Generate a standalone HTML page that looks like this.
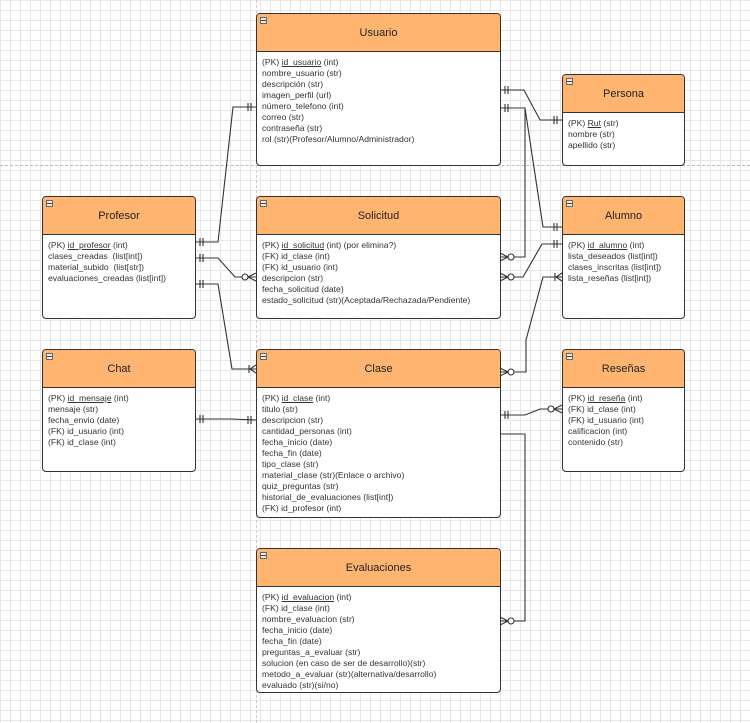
<!DOCTYPE html>
<html><head><meta charset="utf-8"><style>
body{margin:0;width:750px;height:723px;overflow:hidden;position:relative;background-color:#fff;
background-image:linear-gradient(#e6e6e6 1px,transparent 1px),linear-gradient(90deg,#e6e6e6 1px,transparent 1px);
background-size:10px 10px;font-family:"Liberation Sans",sans-serif;}
.b{position:absolute;border:1.5px solid #333;border-radius:4px;background:#fff;box-sizing:border-box;overflow:hidden}
.h{height:37px;background:#ffb570;border-bottom:1.5px solid #333;text-align:center;line-height:38px;font-size:11px;color:#222;position:relative}
.h:before{content:"";position:absolute;left:3px;top:3px;width:5px;height:5px;border:1px solid #666;background:#eee}
.h:after{content:"";position:absolute;left:4px;top:6px;width:5px;height:1px;background:#444}
.c{padding:5px 0 0 5px;font-size:8.6px;line-height:11px;color:#333;white-space:nowrap}
u{text-decoration:underline}
svg{position:absolute;left:0;top:0}
</style></head><body>
<div style="position:absolute;left:0;top:165px;width:750px;border-top:1px dashed #bbb"></div>
<div style="position:absolute;left:256px;top:0;height:723px;border-left:1px dashed #ccc"></div>

<div class="b" style="left:256px;top:13px;width:245px;height:153px"><div class="h">Usuario</div><div class="c">(PK) <u>id_usuario</u> (int)<br>nombre_usuario (str)<br>descripción (str)<br>imagen_perfil (url)<br>número_telefono (int)<br>correo (str)<br>contraseña (str)<br>rol (str)(Profesor/Alumno/Administrador)</div></div>
<div class="b" style="left:562px;top:74px;width:123px;height:92px"><div class="h">Persona</div><div class="c">(PK) <u>Rut</u> (str)<br>nombre (str)<br>apellido (str)</div></div>
<div class="b" style="left:42px;top:196px;width:154px;height:123px"><div class="h">Profesor</div><div class="c">(PK) <u>id_profesor</u> (int)<br>clases_creadas&nbsp; (list[int])<br>material_subido&nbsp; (list[str])<br>evaluaciones_creadas (list[int])</div></div>
<div class="b" style="left:256px;top:196px;width:245px;height:123px"><div class="h">Solicitud</div><div class="c">(PK) <u>id_solicitud</u> (int) (por elimina?)<br>(FK) id_clase (int)<br>(FK) id_usuario (int)<br>descripcion (str)<br>fecha_solicitud (date)<br>estado_solicitud (str)(Aceptada/Rechazada/Pendiente)</div></div>
<div class="b" style="left:562px;top:196px;width:123px;height:123px"><div class="h">Alumno</div><div class="c">(PK) <u>id_alumno</u> (int)<br>lista_deseados (list[int])<br>clases_inscritas (list[int])<br>lista_reseñas (list[int])</div></div>
<div class="b" style="left:42px;top:349px;width:154px;height:123px"><div class="h">Chat</div><div class="c">(PK) <u>id_mensaje</u> (int)<br>mensaje (str)<br>fecha_envio (date)<br>(FK) id_usuario (int)<br>(FK) id_clase (int)</div></div>
<div class="b" style="left:256px;top:349px;width:245px;height:169px"><div class="h">Clase</div><div class="c">(PK) <u>id_clase</u> (int)<br>titulo (str)<br>descripcion (str)<br>cantidad_personas (int)<br>fecha_inicio (date)<br>fecha_fin (date)<br>tipo_clase (str)<br>material_clase (str)(Enlace o archivo)<br>quiz_preguntas (str)<br>historial_de_evaluaciones (list[int])<br>(FK) id_profesor (int)</div></div>
<div class="b" style="left:562px;top:349px;width:123px;height:123px"><div class="h">Reseñas</div><div class="c">(PK) <u>id_reseña</u> (int)<br>(FK) id_clase (int)<br>(FK) id_usuario (int)<br>calificacion (int)<br>contenido (str)</div></div>
<div class="b" style="left:256px;top:548px;width:245px;height:145px"><div class="h">Evaluaciones</div><div class="c">(PK) <u>id_evaluacion</u> (int)<br>(FK) id_clase (int)<br>nombre_evaluacion (str)<br>fecha_inicio (date)<br>fecha_fin (date)<br>preguntas_a_evaluar (str)<br>solucion (en caso de ser de desarrollo)(str)<br>metodo_a_evaluar (str)(alternativa/desarrollo)<br>evaluado (str)(si/no)</div></div>

<svg width="750" height="723" fill="none" stroke="#333" stroke-width="1.1">
<defs>
<g id="one"><path d="M5,-4V4M8,-4V4"/></g>
<g id="zm"><path d="M0,-4L8,0L0,4"/><circle cx="11" cy="0" r="3" fill="#fff"/></g>
<g id="om"><path d="M0,-4L6,0L0,4M7,-4V4"/></g>
</defs>
<polyline points="195,242 218,242 233,107 256,107"/>
<polyline points="500,90 524,90 540,120 562,120"/>
<polyline points="500,108 525,108 543,227 562,227"/>
<polyline points="500,257 525,257 525,108"/>
<polyline points="500,277 523,277 542,244 562,244"/>
<polyline points="562,277 543,277 526,340 526,372 500,372"/>
<polyline points="195,258 218,258 235,277 256,277"/>
<polyline points="195,284 218,284 232,369 256,369"/>
<polyline points="195,419 230,419 256,420"/>
<polyline points="500,415 525,415 540,409 562,409"/>
<polyline points="500,434 525,434 525,621 500,621"/>
<use href="#one" transform="translate(256,107) scale(-1,1)"/>
<use href="#one" transform="translate(195,242)"/>
<use href="#one" transform="translate(500,90)"/>
<use href="#one" transform="translate(562,120) scale(-1,1)"/>
<use href="#one" transform="translate(500,108)"/>
<use href="#one" transform="translate(562,227) scale(-1,1)"/>
<use href="#zm" transform="translate(500,257)"/>
<use href="#zm" transform="translate(500,277)"/>
<use href="#one" transform="translate(562,244) scale(-1,1)"/>
<use href="#om" transform="translate(562,277) scale(-1,1)"/>
<use href="#zm" transform="translate(500,372)"/>
<use href="#one" transform="translate(195,258)"/>
<use href="#zm" transform="translate(256,277) scale(-1,1)"/>
<use href="#one" transform="translate(195,284)"/>
<use href="#om" transform="translate(256,369) scale(-1,1)"/>
<use href="#one" transform="translate(195,419)"/>
<use href="#one" transform="translate(256,420) scale(-1,1)"/>
<use href="#one" transform="translate(500,415)"/>
<use href="#zm" transform="translate(562,409) scale(-1,1)"/>
<use href="#zm" transform="translate(500,621)"/>
</svg>
</body></html>
